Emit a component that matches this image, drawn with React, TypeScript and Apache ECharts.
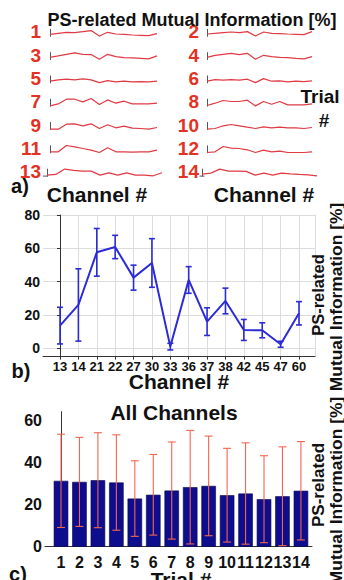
import React, { useEffect, useRef } from 'react';
import * as echarts from 'echarts';

const FONT = "'Liberation Sans', Arial, sans-serif";

// tick labels / categories
const channels = ['13', '14', '21', '22', '27', '30', '33', '36', '37', '38', '42', '45', '47', '60'];
const trials = ['1', '2', '3', '4', '5', '6', '7', '8', '9', '10', '11', '12', '13', '14'];
const bTicks = [0, 20, 40, 60, 80];
const cTicks = [0, 20, 40, 60];

// panel a: PS-related MI per channel, one list per trial
const trial1 = [20, 30, 40, 37, 47, 57, 3, 40, 23, 20, 13, 10, 7, 27];
const trial2 = [23, 30, 37, 43, 37, 47, 3, 43, 30, 27, 23, 20, 17, 47];
const trial3 = [23, 37, 53, 67, 53, 50, 3, 53, 30, 20, 17, 13, 7, 37];
const trial4 = [23, 43, 53, 63, 50, 63, 3, 43, 30, 23, 20, 13, 7, 30];
const trial5 = [17, 30, 37, 30, 40, 30, 3, 23, 10, 17, 10, 13, 10, 17];
const trial6 = [17, 33, 27, 33, 27, 37, 3, 43, 17, 20, 10, 17, 13, 20];
const trial7 = [3, 23, 70, 70, 43, 77, 17, 63, 30, 50, 23, 23, 23, 30];
const trial8 = [7, 30, 57, 47, 47, 60, 3, 47, 20, 47, 13, 13, 13, 23];
const trial9 = [3, 3, 53, 57, 37, 57, 10, 47, 17, 33, 13, 10, 3, 20];
const trial10 = [3, 10, 37, 50, 37, 23, 10, 27, 17, 23, 17, 17, 10, 20];
const trial11 = [10, 10, 73, 60, 43, 27, 3, 50, 10, 10, 7, 10, 10, 27];
const trial12 = [3, 10, 63, 47, 43, 30, 3, 27, 10, 17, 3, 3, 3, 10];
const trial13 = [10, 17, 70, 57, 50, 50, 10, 33, 10, 33, 10, 10, 3, 33];
const trial14 = [20, 30, 70, 50, 50, 47, 10, 30, 10, 30, 23, 17, 13, 3];
const sparkData = [trial1, trial2, trial3, trial4, trial5, trial6, trial7, trial8, trial9, trial10, trial11, trial12, trial13, trial14];

// panel b: mean and error per channel
const channelMean = [13.6, 26, 57.6, 60.8, 42.4, 51.2, 1, 41, 16, 28.4, 11, 10.8, 2.4, 21];
const channelErr = [11, 21.7, 14.3, 7, 7.5, 14.6, 2, 8, 8.3, 7.7, 6.3, 4.5, 1.8, 7];

// panel c: mean and sd per trial (all channels)
const trialMean = [31.2, 30.7, 31.5, 30.4, 22.8, 24.6, 26.6, 28.2, 28.8, 24.4, 25.2, 22.5, 23.9, 26.5];
const trialSd = [22.1, 21.1, 22.5, 22.6, 17.9, 19.1, 23, 26.9, 23.6, 22.2, 24, 20.6, 23.4, 23.3];

function errRender(color: string, lw: number, hw: number) {
  return (params: any, api: any) => {
    const x = api.value(0);
    const m = api.value(1);
    const e = api.value(2);
    const t = api.coord([x, m + e]);
    const b = api.coord([x, m - e]);
    const style = { stroke: color, lineWidth: lw };
    return {
      type: 'group',
      children: [
        { type: 'line', shape: { x1: t[0], y1: t[1], x2: b[0], y2: b[1] }, style },
        { type: 'line', shape: { x1: t[0] - hw, y1: t[1], x2: t[0] + hw, y2: t[1] }, style },
        { type: 'line', shape: { x1: b[0] - hw, y1: b[1], x2: b[0] + hw, y2: b[1] }, style },
      ],
    };
  };
}

function txt(text: string, x: number, y: number, size: number, opts: any = {}) {
  return {
    type: 'text',
    x,
    y,
    rotation: opts.rotation || 0,
    z: 100,
    style: {
      text,
      font: `bold ${size}px ${FONT}`,
      fill: opts.fill || '#111',
      textAlign: opts.align || 'center',
      textVerticalAlign: 'middle',
    },
  };
}

function buildOption() {
  const grid: any[] = [];
  const xAxis: any[] = [];
  const yAxis: any[] = [];
  const series: any[] = [];
  const graphic: any[] = [];

  sparkData.forEach((vals, k) => {
    const col = k % 2;
    const row = Math.floor(k / 2);
    const bottom = 36.3 + 23.3 * row;
    const last = row === 6;
    const left = col === 0 ? (last ? 47 : 50) : (last ? 202 : 207);
    const width = col === 0 ? (last ? 115 : 107) : (last ? 115 : 105);
    const axisX = col === 0 ? (last ? 43 : 44) : (last ? 199.5 : 202);
    grid.push({ left, top: bottom - 7, width, height: 7 });
    xAxis.push({ type: 'value', gridIndex: k, min: 0, max: 13, show: false });
    yAxis.push({
      type: 'value', gridIndex: k, min: 0, max: 70, offset: left - axisX,
      axisLine: { show: true, lineStyle: { color: '#555', width: 1 } },
      axisTick: { show: false }, axisLabel: { show: false }, splitLine: { show: false },
    });
    series.push({
      type: 'line', xAxisIndex: k, yAxisIndex: k, clip: false,
      data: vals.map((v, i) => [i, v]), symbol: 'none',
      lineStyle: { color: '#e03a44', width: 1.2 },
    });
    graphic.push(txt(trials[k], col === 0 ? 41 : 199, bottom - 4.5, 19, { align: 'right', fill: '#e33224' }));
    if (last) {
      graphic.push({ type: 'line', shape: { x1: axisX, y1: bottom, x2: axisX + 5, y2: bottom }, style: { stroke: '#555', lineWidth: 1 } });
    }
  });

  // panel b
  const gb = 14;
  grid.push({ left: 43, top: 215, width: 272, height: 141.6 });
  xAxis.push({
    type: 'value', gridIndex: gb, min: -0.925, max: 13.87,
    axisLine: { show: true, onZero: false, lineStyle: { color: '#333', width: 1 } },
    axisTick: { show: true, customValues: channels.map((_, i) => i), length: 3, lineStyle: { color: '#333' } },
    axisLabel: {
      customValues: channels.map((_, i) => i), formatter: (v: number) => channels[Math.round(v)],
      fontFamily: FONT, fontWeight: 'bold', fontSize: 13, color: '#111', margin: 3,
    },
    splitLine: { show: true, lineStyle: { color: '#dcdcdc', width: 1 } },
  });
  yAxis.push({
    type: 'value', gridIndex: gb, min: -5, max: 80,
    axisLine: { show: true, lineStyle: { color: '#333', width: 1 } },
    axisTick: { show: true, customValues: bTicks, length: 3, lineStyle: { color: '#333' } },
    axisLabel: { customValues: bTicks, fontFamily: FONT, fontWeight: 'bold', fontSize: 14, color: '#111', margin: 3 },
    splitLine: { show: true, lineStyle: { color: '#dcdcdc', width: 1 } },
  });
  series.push({
    type: 'custom', xAxisIndex: gb, yAxisIndex: gb, z: 3,
    data: channelMean.map((m, i) => [i, m, channelErr[i]]),
    encode: { x: 0, y: 1 },
    renderItem: errRender('#2b2bd8', 1.6, 3),
  });
  series.push({
    type: 'line', xAxisIndex: gb, yAxisIndex: gb, z: 4,
    data: channelMean.map((m, i) => [i, m]), symbol: 'none',
    lineStyle: { color: '#2b2bd8', width: 2 },
  });

  // panel c
  const gc = 15;
  grid.push({ left: 45, top: 411.6, width: 267, height: 135.1 });
  xAxis.push({
    type: 'value', gridIndex: gc, min: -0.867, max: 13.6,
    axisLine: { show: true, onZero: false, lineStyle: { color: '#333', width: 1 } },
    axisTick: { show: false, customValues: trials.map((_, i) => i) },
    axisLabel: {
      customValues: trials.map((_, i) => i), formatter: (v: number) => trials[Math.round(v)],
      fontFamily: FONT, fontWeight: 'bold', fontSize: 16, color: '#111', margin: 8,
    },
    splitLine: { show: false },
  });
  yAxis.push({
    type: 'value', gridIndex: gc, min: 0, max: 64,
    axisLine: { show: true, lineStyle: { color: '#333', width: 1 } },
    axisTick: { show: false, customValues: cTicks },
    axisLabel: { customValues: cTicks, fontFamily: FONT, fontWeight: 'bold', fontSize: 16, color: '#111', margin: 3 },
    splitLine: { show: false },
  });
  series.push({
    type: 'bar', xAxisIndex: gc, yAxisIndex: gc, barWidth: 14.5,
    data: trialMean.map((m, i) => [i, m]),
    itemStyle: { color: '#0d0d8e', borderColor: '#05054a', borderWidth: 0.6 },
  });
  series.push({
    type: 'custom', xAxisIndex: gc, yAxisIndex: gc, z: 5,
    data: trialMean.map((m, i) => [i, m, trialSd[i]]),
    encode: { x: 0, y: 1 },
    renderItem: errRender('#f2664e', 1.1, 4),
  });

  // right border line of panel b
  yAxis.push({
    type: 'value', gridIndex: gb, position: 'right', min: -5, max: 80,
    axisLine: { show: true, lineStyle: { color: '#dcdcdc', width: 1 } },
    axisTick: { show: false }, axisLabel: { show: false }, splitLine: { show: false },
  });

  // texts
  graphic.push(txt('PS-related Mutual Information [%]', 192, 20, 18));
  graphic.push(txt('Trial', 320, 96, 19));
  graphic.push(txt('#', 324, 120, 19));
  graphic.push(txt('a)', 20, 186, 20));
  graphic.push(txt('Channel #', 97, 194, 21));
  graphic.push(txt('Channel #', 264, 194, 21));
  graphic.push(txt('b)', 21, 371, 20));
  graphic.push(txt('Channel #', 179, 381, 21));
  graphic.push(txt('PS-related', 318, 295, 16.5, { rotation: Math.PI / 2 }));
  graphic.push(txt('Mutual Information [%]', 336, 297, 17.4, { rotation: Math.PI / 2 }));
  graphic.push(txt('All Channels', 174, 412, 21));
  graphic.push(txt('c)', 18, 574, 20));
  graphic.push(txt('Trial #', 181, 579, 21));
  graphic.push(txt('PS-related', 318, 485, 17, { rotation: Math.PI / 2 }));
  graphic.push(txt('Mutual Information [%]', 336, 491, 17.4, { rotation: Math.PI / 2 }));

  return {
    animation: false,
    backgroundColor: '#fff',
    grid,
    xAxis,
    yAxis,
    series,
    graphic: { elements: graphic },
  };
}

export default function App() {
  const ref = useRef<HTMLDivElement>(null);
  useEffect(() => {
    const chart = echarts.init(ref.current as HTMLDivElement, null, { renderer: 'svg' });
    chart.setOption(buildOption() as any);
    return () => chart.dispose();
  }, []);
  return (
    <div
      ref={ref}
      style={{ position: 'absolute', left: 0, top: 0, width: 344, height: 580, background: '#fff' }}
    />
  );
}
